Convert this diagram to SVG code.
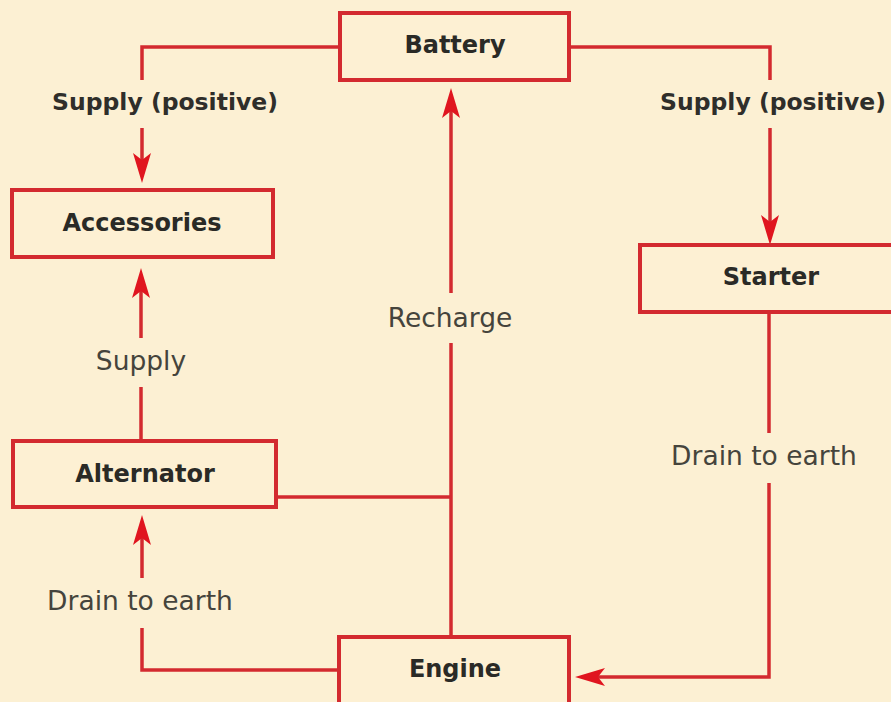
<svg xmlns="http://www.w3.org/2000/svg" width="891" height="702" viewBox="0 0 891 702">
<defs>
<style>
.box{fill:#fdf0d3;stroke:#d32a2f;stroke-width:4}
.wire{fill:none;stroke:#d32a2f;stroke-width:3.5}
.title{font-family:"DejaVu Sans",sans-serif;font-weight:bold;font-size:24px;fill:#2a2a26;text-anchor:middle}
.lbl{font-family:"DejaVu Sans",sans-serif;font-size:26.5px;fill:#45443c;text-anchor:middle}
.lblb{font-family:"DejaVu Sans",sans-serif;font-weight:bold;font-size:23.5px;fill:#2f2e2a;text-anchor:middle}
</style>
<marker id="arr" viewBox="0 0 30 18" refX="8" refY="9" markerWidth="30" markerHeight="18" markerUnits="userSpaceOnUse" orient="auto">
<path d="M0,0 L30,9 L0,18 L7,9 z" fill="#e0151f"/>
</marker>
</defs>
<rect width="891" height="702" fill="#fcf0d3"/>
<g id="connectors">
<polyline class="wire" points="340,47 142,47 142,80"/>
<line class="wire" x1="142" y1="128" x2="142" y2="161" marker-end="url(#arr)"/>
<polyline class="wire" points="568,47 770,47 770,80"/>
<line class="wire" x1="770" y1="128" x2="770" y2="223" marker-end="url(#arr)"/>
<line class="wire" x1="141" y1="441" x2="141" y2="387"/>
<line class="wire" x1="141" y1="338" x2="141" y2="290" marker-end="url(#arr)"/>
<line class="wire" x1="451" y1="637" x2="451" y2="343"/>
<line class="wire" x1="451" y1="293" x2="451" y2="110" marker-end="url(#arr)"/>
<line class="wire" x1="276" y1="497" x2="451" y2="497"/>
<polyline class="wire" points="339,670 142,670 142,628"/>
<line class="wire" x1="142" y1="578" x2="142" y2="537" marker-end="url(#arr)"/>
<line class="wire" x1="769" y1="312" x2="769" y2="433"/>
<polyline class="wire" points="769,483 769,677 597,677" marker-end="url(#arr)"/>
<text class="lblb" x="165" y="110">Supply (positive)</text>
<text class="lblb" x="773" y="110">Supply (positive)</text>
<text class="lbl" x="141" y="370">Supply</text>
<text class="lbl" x="450" y="327">Recharge</text>
<text class="lbl" x="140" y="610">Drain to earth</text>
<text class="lbl" x="764" y="465">Drain to earth</text>
</g>
<g id="battery">
<rect class="box" x="340" y="13" width="229" height="67"/>
<text class="title" x="455" y="53">Battery</text>
</g>
<g id="accessories">
<rect class="box" x="12" y="190" width="261" height="67"/>
<text class="title" x="142" y="231">Accessories</text>
</g>
<g id="starter">
<rect class="box" x="640" y="245" width="270" height="67"/>
<text class="title" x="771" y="285">Starter</text>
</g>
<g id="alternator">
<rect class="box" x="13" y="441" width="263" height="66"/>
<text class="title" x="145" y="482">Alternator</text>
</g>
<g id="engine">
<rect class="box" x="339" y="637" width="230" height="80"/>
<text class="title" x="455" y="677">Engine</text>
</g>
</svg>
